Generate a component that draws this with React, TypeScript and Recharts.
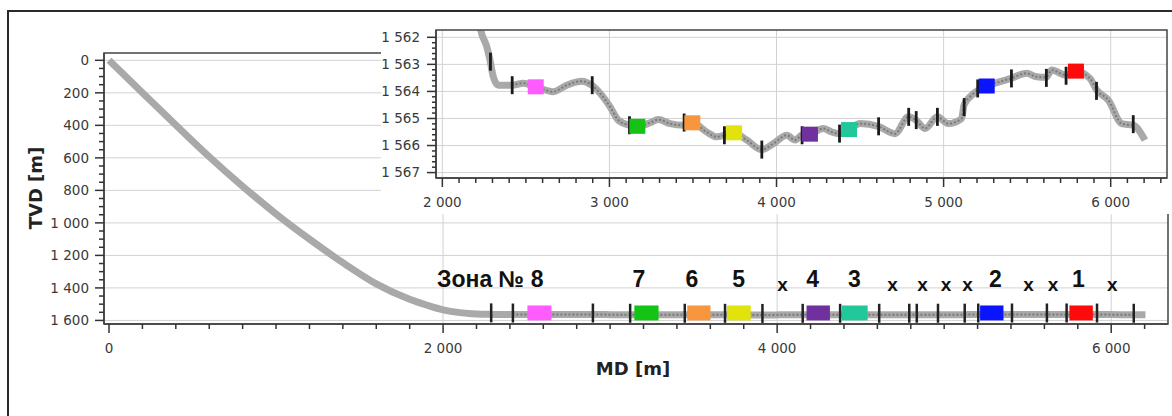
import {
  ComposedChart,
  Line,
  Scatter,
  XAxis,
  YAxis,
  ReferenceLine,
  ReferenceArea,
} from "recharts";

// build section of the well, MD / TVD in metres
const buildMd = [0, 200, 400, 600, 800, 1000, 1200, 1400, 1600, 1800, 1900, 2000, 2100, 2170];
const buildTvd = [0, 199, 398, 593, 775, 945, 1100, 1245, 1375, 1470, 1505, 1535, 1552, 1558.5];

// horizontal section (landing + lateral)
const lateralMd = [
  2230, 2266, 2285, 2305, 2335, 2415, 2485, 2559, 2664, 2744, 2834, 2894, 2944, 3004, 3053,
  3119, 3167, 3243, 3293, 3363, 3446, 3496, 3582, 3642, 3688, 3746, 3822, 3911, 3981, 4061,
  4111, 4151, 4200, 4280, 4330, 4374, 4434, 4500, 4609, 4709, 4789, 4835, 4889, 4962, 5028,
  5108, 5122, 5158, 5208, 5258, 5338, 5402, 5497, 5557, 5613, 5647, 5732, 5792, 5876, 5916,
  5986, 6066, 6135, 6205,
];
const lateralTvd = [
  1561.73, 1562.35, 1562.84, 1563.46, 1563.77, 1563.77, 1563.7, 1563.83, 1564.01, 1563.77,
  1563.62, 1563.77, 1564.07, 1564.57, 1565.06, 1565.25, 1565.29, 1565.16, 1565.04, 1565.19,
  1565.25, 1565.16, 1565.5, 1565.68, 1565.62, 1565.53, 1565.8, 1566.15, 1565.93, 1565.62,
  1565.8, 1565.62, 1565.58, 1565.37, 1565.5, 1565.56, 1565.41, 1565.19, 1565.29, 1565.56,
  1564.94, 1565.06, 1565.37, 1564.94, 1565.19, 1565.0, 1564.51, 1564.2, 1563.95, 1563.8,
  1563.64, 1563.52, 1563.33, 1563.46, 1563.48, 1563.21, 1563.4, 1563.25, 1563.52, 1563.95,
  1564.32, 1565.19, 1565.25, 1565.8,
];

// zone boundaries along the lateral
const boundaryMd = [
  2288, 2418, 2897, 3120, 3447, 3688, 3912, 4153, 4377, 4611, 4791, 4836, 4963, 5123, 5204,
  5406, 5615, 5733, 5915, 6135,
];
const boundaryTvd = [
  1562.9, 1563.77, 1563.77, 1565.25, 1565.15, 1565.62, 1566.15, 1565.62, 1565.56, 1565.29,
  1564.94, 1565.06, 1564.94, 1564.58, 1563.89, 1563.52, 1563.5, 1563.42, 1563.98, 1565.21,
];

// producing zones
const zoneNames = ["8", "7", "6", "5", "4", "3", "2", "1"];
const zoneColors = ["#ff5cff", "#14c414", "#f7963c", "#e2e20c", "#7030a0", "#22c89a", "#0a14ff", "#ff0a0a"];
const zoneMd = [2559, 3167, 3496, 3746, 4200, 4434, 5258, 5792];
const zoneTvd = [1563.83, 1565.29, 1565.16, 1565.53, 1565.58, 1565.41, 1563.8, 1563.25];
const zoneFrom = [2505, 3145, 3462, 3700, 4176, 4386, 5215, 5750];
const zoneTo = [2649, 3290, 3601, 3842, 4316, 4542, 5355, 5890];
const zoneLabelMd = [2559, 3172, 3489, 3769, 4213, 4462, 5306, 5804];
const skippedMd = [4033, 4691, 4871, 5011, 5140, 5505, 5652, 6007];

// axis ticks
const mainXLabels = [0, 2000, 4000, 6000];
const mainYLabels = [0, 200, 400, 600, 800, 1000, 1200, 1400, 1600];
const insetXLabels = [2000, 3000, 4000, 5000, 6000];
const insetYLabels = [1562, 1563, 1564, 1565, 1566, 1567];

const range = (from: number, to: number, step: number) => {
  const out: number[] = [];
  for (let v = from; v <= to + 1e-9; v += step) out.push(Math.round(v * 1000) / 1000);
  return out;
};

const mainXTicks = range(0, 6200, 200);
const mainYTicks = range(0, 1600, 50);
const insetXTicks = range(2000, 6300, 100);
const insetYTicks = range(1562, 1567, 0.2);

const trajectory = [
  ...buildMd.map((md, i) => ({ md, tvd: buildTvd[i] })),
  ...lateralMd.map((md, i) => ({ md, tvd: lateralTvd[i] })),
];
const dotted = trajectory.filter((p) => p.md >= 2400 && p.md <= 6140);
const insetTrajectory = trajectory.filter((p) => p.md >= 2000);
const boundaries = boundaryMd.map((md, i) => ({ md, tvd: boundaryTvd[i] }));
const zonePoints = zoneMd.map((md, i) => ({ md, tvd: zoneTvd[i], color: zoneColors[i] }));

const LABEL_TVD = 1392;
const SKIP_TVD = 1416;
const zoneLabels = zoneLabelMd.map((md, i) => ({
  md,
  tvd: LABEL_TVD,
  text: i === 0 ? `Зона № ${zoneNames[i]}` : zoneNames[i],
  first: i === 0,
}));
const skipLabels = skippedMd.map((md) => ({ md, tvd: SKIP_TVD }));

const fmt = (v: number) => String(Math.round(v)).replace(/\B(?=(\d{3})+(?!\d))/g, " ");

const tickText = { fontFamily: "DejaVu Sans, sans-serif", fontSize: 13.5, fill: "#3a3a3a" };
const AXIS = "#333";
const GRID = "#d2d2d2";

const xTick = (labels: number[]) => (p: any) => {
  const v = p.payload.value;
  const major = labels.some((l) => Math.abs(l - v) < 1e-6);
  return (
    <g>
      <line x1={p.x} y1={p.y} x2={p.x} y2={p.y + (major ? 9 : 5)} stroke={AXIS} strokeWidth={1.5} />
      {major && (
        <text x={p.x} y={p.y + 29} textAnchor="middle" {...tickText}>
          {fmt(v)}
        </text>
      )}
    </g>
  );
};

const yTick = (labels: number[], gap: number, minor: number) => (p: any) => {
  const v = p.payload.value;
  const major = labels.some((l) => Math.abs(l - v) < 1e-6);
  return (
    <g>
      <line x1={p.x} y1={p.y} x2={p.x - (major ? 9 : minor)} y2={p.y} stroke={AXIS} strokeWidth={1.5} />
      {major && (
        <text x={p.x - gap} y={p.y} dy="0.36em" textAnchor="end" {...tickText}>
          {fmt(v)}
        </text>
      )}
    </g>
  );
};

const mainBoundary = (p: any) => (
  <line x1={p.cx} y1={p.cy - 11} x2={p.cx} y2={p.cy + 8} stroke="#222" strokeWidth={2.5} />
);
const insetBoundary = (p: any) => (
  <line x1={p.cx} y1={p.cy - 9} x2={p.cx} y2={p.cy + 9} stroke="#1a1a1a" strokeWidth={2.8} />
);
const zoneSquare = (p: any) => (
  <rect x={p.cx - 8} y={p.cy - 7.5} width={16} height={15} fill={p.payload.color} />
);
const zoneText = (p: any) => (
  <text
    x={p.payload.first ? p.cx + 7 : p.cx}
    y={p.cy}
    textAnchor={p.payload.first ? "end" : "middle"}
    fontFamily="Liberation Sans, Arial, sans-serif"
    fontWeight="bold"
    fontSize={23}
    fill="#111"
  >
    {p.payload.text}
  </text>
);
const skipText = (p: any) => (
  <text
    x={p.cx}
    y={p.cy}
    textAnchor="middle"
    fontFamily="Liberation Sans, Arial, sans-serif"
    fontWeight="bold"
    fontSize={19}
    fill="#111"
  >
    x
  </text>
);

const MAIN_X: [number, number] = [-30, 6340];
const MAIN_Y: [number, number] = [-45, 1622];
const INSET_X: [number, number] = [1962, 6337];
const INSET_Y: [number, number] = [1561.73, 1567.2];

function MainChart() {
  return (
    <ComposedChart width={1172} height={416} margin={{ top: 53, right: 4, bottom: 52, left: 44 }}>
      <XAxis
        dataKey="md"
        type="number"
        domain={MAIN_X}
        allowDataOverflow
        ticks={mainXTicks}
        interval={0}
        tickSize={0}
        tickMargin={0}
        tickLine={false}
        axisLine={{ stroke: AXIS, strokeWidth: 1.5 }}
        tick={xTick(mainXLabels)}
        height={40}
      />
      <YAxis
        dataKey="tvd"
        type="number"
        domain={MAIN_Y}
        reversed
        allowDataOverflow
        ticks={mainYTicks}
        interval={0}
        tickSize={0}
        tickMargin={0}
        tickLine={false}
        axisLine={{ stroke: AXIS, strokeWidth: 1.5 }}
        tick={yTick(mainYLabels, 15, 5)}
        width={60}
      />
      {mainYLabels.map((v) => (
        <ReferenceLine key={`h${v}`} y={v} stroke={GRID} strokeWidth={1} zIndex={-100} />
      ))}
      {mainXLabels.slice(1).map((v) => (
        <ReferenceLine key={`v${v}`} x={v} stroke={GRID} strokeWidth={1} zIndex={-100} />
      ))}
      <Line
        data={trajectory}
        dataKey="tvd"
        type="monotone"
        stroke="#a9a9a9"
        strokeWidth={7}
        dot={false}
        isAnimationActive={false}
      />
      <Line
        data={dotted}
        dataKey="tvd"
        type="monotone"
        stroke="#7a7a7a"
        strokeWidth={2}
        strokeDasharray="2 2"
        dot={false}
        isAnimationActive={false}
      />
      {zoneFrom.map((from, i) => (
        <ReferenceArea
          key={`z${i}`}
          x1={from}
          x2={zoneTo[i]}
          y1={1508}
          y2={1600}
          fill={zoneColors[i]}
          fillOpacity={1}
          stroke="none"
          zIndex={700}
        />
      ))}
      <Scatter data={boundaries} dataKey="tvd" shape={mainBoundary} isAnimationActive={false} />
      <Scatter data={zoneLabels} dataKey="tvd" shape={zoneText} isAnimationActive={false} />
      <Scatter data={skipLabels} dataKey="tvd" shape={skipText} isAnimationActive={false} />
      <ReferenceArea
        x1={MAIN_X[0]}
        x2={MAIN_X[1]}
        y1={MAIN_Y[0]}
        y2={MAIN_Y[1]}
        fill="none"
        stroke="#444"
        strokeWidth={1.5}
        zIndex={800}
      />
    </ComposedChart>
  );
}

function InsetChart() {
  return (
    <ComposedChart width={789} height={192} margin={{ top: 8, right: 3, bottom: 0, left: 0 }}>
      <XAxis
        dataKey="md"
        type="number"
        domain={INSET_X}
        allowDataOverflow
        ticks={insetXTicks}
        interval={0}
        tickSize={0}
        tickMargin={0}
        tickLine={false}
        axisLine={{ stroke: AXIS, strokeWidth: 1.5 }}
        tick={xTick(insetXLabels)}
        height={36}
      />
      <YAxis
        dataKey="tvd"
        type="number"
        domain={INSET_Y}
        reversed
        allowDataOverflow
        ticks={insetYTicks}
        interval={0}
        tickSize={0}
        tickMargin={0}
        tickLine={false}
        axisLine={{ stroke: AXIS, strokeWidth: 1.5 }}
        tick={yTick(insetYLabels, 16, 4)}
        width={55}
      />
      {insetYLabels.map((v) => (
        <ReferenceLine key={`h${v}`} y={v} stroke={GRID} strokeWidth={1} zIndex={-100} />
      ))}
      {insetXLabels.map((v) => (
        <ReferenceLine key={`v${v}`} x={v} stroke={GRID} strokeWidth={1} zIndex={-100} />
      ))}
      <Line
        data={insetTrajectory}
        dataKey="tvd"
        type="monotone"
        stroke="#a9a9a9"
        strokeWidth={7}
        dot={false}
        isAnimationActive={false}
      />
      <Line
        data={dotted}
        dataKey="tvd"
        type="monotone"
        stroke="#7a7a7a"
        strokeWidth={2}
        strokeDasharray="2 2"
        dot={false}
        isAnimationActive={false}
      />
      <Scatter data={boundaries} dataKey="tvd" shape={insetBoundary} isAnimationActive={false} />
      <Scatter data={zonePoints} dataKey="tvd" shape={zoneSquare} isAnimationActive={false} />
      <ReferenceArea
        x1={INSET_X[0]}
        x2={INSET_X[1]}
        y1={INSET_Y[0]}
        y2={INSET_Y[1]}
        fill="none"
        stroke="#444"
        strokeWidth={1.5}
        zIndex={800}
      />
    </ComposedChart>
  );
}

export default function App() {
  return (
    <div
      style={{
        position: "absolute",
        left: 0,
        top: 0,
        width: 1172,
        height: 416,
        overflow: "hidden",
        background: "#fff",
      }}
    >
      <div
        style={{
          position: "absolute",
          left: 7,
          top: 10,
          width: 1200,
          height: 500,
          border: "2px solid #2a2a2a",
        }}
      />
      <div style={{ position: "absolute", left: 0, top: 0 }}>
        <MainChart />
      </div>
      <div style={{ position: "absolute", left: 381, top: 22, background: "#fff" }}>
        <InsetChart />
      </div>
      <svg
        width={1172}
        height={416}
        style={{ position: "absolute", left: 0, top: 0, pointerEvents: "none" }}
      >
        <text
          transform="translate(42 188) rotate(-90)"
          textAnchor="middle"
          fontFamily="DejaVu Sans, sans-serif"
          fontWeight="bold"
          fontSize={18}
          fill="#222"
        >
          TVD [m]
        </text>
        <text
          x={633}
          y={375}
          textAnchor="middle"
          fontFamily="DejaVu Sans, sans-serif"
          fontWeight="bold"
          fontSize={18}
          fill="#222"
        >
          MD [m]
        </text>
      </svg>
    </div>
  );
}
